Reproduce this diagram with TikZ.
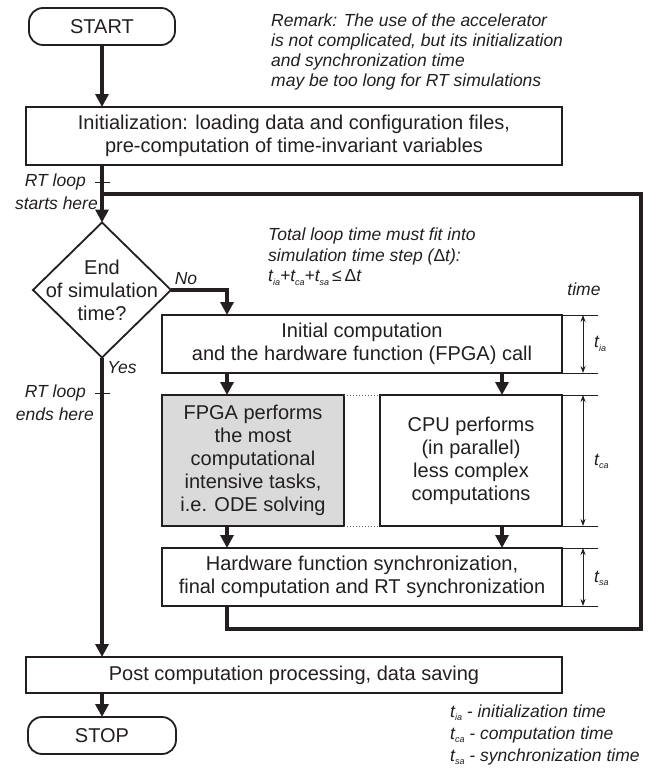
\documentclass[tikz,border=0pt]{standalone}
\usepackage{fontspec}
\setmainfont{Liberation Sans}
\usetikzlibrary{arrows.meta,shapes.geometric,calc}
\definecolor{ink}{RGB}{35,31,32}
\definecolor{fpgagray}{RGB}{218,218,218}
\newcommand{\boxfont}{\fontsize{20}{23}\selectfont}
\newcommand{\notefont}{\fontsize{17.5}{20.5}\selectfont\itshape}
\newcommand{\tsb}[1]{t\raisebox{-0.35ex}{\fontsize{9}{9}\selectfont #1}}
\begin{document}
\begin{tikzpicture}[x=1pt,y=-1pt,
  box/.style={draw=ink, line width=1.8pt, inner sep=0pt, outer sep=0pt, align=center, font=\boxfont, text=ink},
  term/.style={box, rounded corners=14pt},
  flow/.style={draw=ink, line width=4pt},
  flowarrow/.style={flow, -{Triangle[length=13pt,width=13pt]}},
  note/.style={font=\notefont, text=ink, inner sep=0pt},
  thinline/.style={draw=ink, line width=0.8pt},
  dimarrow/.style={thinline, {Stealth[length=7pt,width=5pt]}-{Stealth[length=7pt,width=5pt]}},
  dotline/.style={draw=ink!70, line width=1pt, dotted}
]
\useasboundingbox[fill=white] (0,0) rectangle (656,768);

% coordinates for columns
\coordinate (colM) at (102,0);
\coordinate (colL) at (227,0);
\coordinate (colR) at (502,0);
\coordinate (extE) at (598,0);
\coordinate (dimX) at (583,0);

% nodes
\node[term, minimum width=146, minimum height=37] (start) at (102,26.5) {START};
\node[box, minimum width=536, minimum height=58] (init) at (294,136)
  {Initialization: loading data and configuration files,\\pre-computation of time-invariant variables};
\node[diamond, draw=ink, line width=1.8pt, minimum width=138, minimum height=135, inner sep=0pt, outer sep=0pt] (dec) at (102,290) {};
\node[align=center, font=\boxfont, text=ink, inner sep=0pt] (dectxt) at (dec.center) {End\\of simulation\\time?};
\node[box, minimum width=400, minimum height=58] (ic) at (362,344)
  {Initial computation\\and the hardware function (FPGA) call};
\node[box, fill=fpgagray, minimum width=182, minimum height=131] (fpga) at (253,460.5)
  {FPGA performs\\the most\\computational\\intensive tasks,\\i.e. ODE solving};
\node[box, minimum width=182, minimum height=131] (cpu) at (471,460.5)
  {CPU performs\\(in parallel)\\less complex\\computations};
\node[box, minimum width=400, minimum height=58] (hw) at (362,577)
  {Hardware function synchronization,\\final computation and RT synchronization};
\node[box, minimum width=536, minimum height=36] (post) at (294,675)
  {Post computation processing, data saving};
\node[term, minimum width=148, minimum height=37] (stop) at (102,735.5) {STOP};

% notes
\node[note, anchor=north west, align=left, font=\fontsize{17.5}{20}\selectfont\itshape] (remark) at (271,14)
  {Remark: The use of the accelerator\\is not complicated, but its initialization\\and synchronization time\\may be too long for RT simulations};
\node[note, anchor=north west, align=left] (total) at (268,228)
  {Total loop time must fit into\\simulation time step ({\upshape Δ}t):\\\tsb{ia}+\tsb{ca}+\tsb{sa}\,{\upshape ≤}\,{\upshape Δ}t};
\node[note] (timelbl) at (584,289) {time};
\node[note, anchor=east] (rts1) at (86,182) {RT loop};
\node[note, anchor=east] (rts2) at (98,203) {starts here};
\node[note, anchor=east] (rte1) at (86,393) {RT loop};
\node[note, anchor=east] (rte2) at (94,414) {ends here};
\node[note] (nolbl) at (186,279) {No};
\node[note] (yeslbl) at (122,368) {Yes};
\node[note, anchor=west] (tia) at (594,344) {\tsb{ia}};
\node[note, anchor=west] (tca) at (594,461) {\tsb{ca}};
\node[note, anchor=west] (tsa) at (594,578) {\tsb{sa}};
\node[note, anchor=west] (leg1) at (450,713) {\tsb{ia} - initialization time};
\node[note, anchor=west] (leg2) at (450,735) {\tsb{ca} - computation time};
\node[note, anchor=west] (leg3) at (450,757) {\tsb{sa} - synchronization time};

% loop coordinates
\coordinate (loopBL) at (227,629);
\coordinate (loopBR) at (641,629);
\coordinate (loopTR) at (641,194);
\coordinate (loopTL) at (102,194);

% main flow
\draw[flowarrow] (start.south) -- (init.north -| start);
\draw[flowarrow] (init.south -| dec) -- (dec.north);
\draw[flowarrow] (dec.south) -- (post.north -| dec);
\draw[flowarrow] (post.south -| stop) -- (stop.north);
\draw[flowarrow] (dec.east) -- (dec.east -| colL) -- (ic.north -| colL);
\draw[flowarrow] (ic.south -| colL) -- (fpga.north -| colL);
\draw[flowarrow] (ic.south -| colR) -- (cpu.north -| colR);
\draw[flowarrow] (fpga.south -| colL) -- (hw.north -| colL);
\draw[flowarrow] (cpu.south -| colR) -- (hw.north -| colR);
\draw[flow, line width=4.5pt, line join=miter] (hw.south -| loopBL) -- (loopBL) -- (loopBR) -- (loopTR) -- (loopTL);

% ticks on main line
\coordinate (tk1a) at (95,182); \coordinate (tk1b) at (110,182);
\coordinate (tk2a) at (95,393); \coordinate (tk2b) at (110,393);
\draw[thinline] (tk1a) -- (tk1b);
\draw[thinline] (tk2a) -- (tk2b);

% dotted parallel lines
\draw[dotline] (fpga.north east) -- (cpu.north west);
\draw[dotline] (fpga.south east) -- (cpu.south west);

% dimension extension lines
\foreach \n/\a in {ic/north, ic/south, cpu/north, cpu/south, hw/north, hw/south}{
  \draw[thinline] (\n.\a\space east) -- (\n.\a\space east -| extE);
}
\draw[dimarrow] (ic.north east -| dimX) -- (ic.south east -| dimX);
\draw[dimarrow] (cpu.north east -| dimX) -- (cpu.south east -| dimX);
\draw[dimarrow] (hw.north east -| dimX) -- (hw.south east -| dimX);
\end{tikzpicture}
\end{document}
